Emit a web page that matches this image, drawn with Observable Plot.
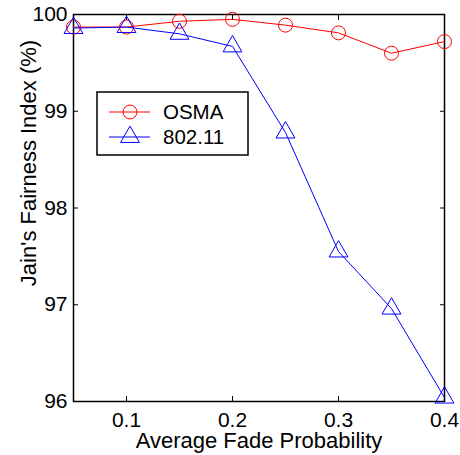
<!DOCTYPE html>
<html>
<head>
<meta charset="utf-8">
<script src="https://cdn.jsdelivr.net/npm/d3@7"></script>
<script src="https://cdn.jsdelivr.net/npm/@observablehq/plot@0.6"></script>
<style>
  body { margin: 0; background: #fff; }
  #wrap { position: relative; width: 460px; height: 455px; }
  #legend { position: absolute; left: 0; top: 0; }
</style>
</head>
<body>
<div id="wrap"></div>
<script>
const fadeProb = [0.05, 0.1, 0.15, 0.2, 0.25, 0.3, 0.35, 0.4];
const osma = [99.87, 99.87, 99.93, 99.95, 99.89, 99.81, 99.60, 99.72];
const ieee80211 = [99.86, 99.87, 99.80, 99.67, 98.78, 97.55, 96.96, 96.04];
const seriesNames = ["OSMA", "802.11"];
const xTicks = [0.1, 0.2, 0.3, 0.4];
const yTicks = [96, 97, 98, 99, 100];

const data = [];
fadeProb.forEach((x, i) => {
  data.push({x, y: osma[i], s: seriesNames[0]});
  data.push({x, y: ieee80211[i], s: seriesNames[1]});
});
const colors = {"OSMA": "#ff0000", "802.11": "#0000ff"};
const symbols = {"OSMA": "circle", "802.11": "triangle"};

const font = "'Liberation Sans', Arial, sans-serif";
const chart = Plot.plot({
  width: 460, height: 455,
  marginLeft: 73, marginRight: 16, marginTop: 14, marginBottom: 54,
  style: {fontFamily: font, fontSize: "21px", background: "#fff", color: "#000"},
  x: {domain: [0.05, 0.4], label: null},
  y: {domain: [96, 100], label: null},
  marks: [
    Plot.frame({stroke: "#000", strokeWidth: 1.5}),
    Plot.axisX(xTicks, {anchor: "bottom", tickSize: 0, tickPadding: 11, fontSize: 21, tickFormat: d => String(d)}),
    Plot.axisX(xTicks, {anchor: "bottom", tickSize: -5, text: null, strokeWidth: 1}),
    Plot.axisX(xTicks, {anchor: "top", tickSize: -5, text: null, strokeWidth: 1}),
    Plot.axisY(yTicks, {anchor: "left", tickSize: 0, tickPadding: 6, fontSize: 21, tickFormat: d => String(d)}),
    Plot.axisY(yTicks, {anchor: "left", tickSize: -5, text: null, strokeWidth: 1}),
    Plot.axisY(yTicks, {anchor: "right", tickSize: -5, text: null, strokeWidth: 1}),
    Plot.line(data, {x: "x", y: "y", z: "s", stroke: d => colors[d.s], strokeWidth: 1}),
    Plot.dot(data, {x: "x", y: "y", symbol: d => symbols[d.s], stroke: d => colors[d.s], fill: "none", r: 7, strokeWidth: 1}),
    Plot.text(["Average Fade Probability"], {frameAnchor: "bottom", dy: 46, fontSize: 22, text: d => d, lineAnchor: "bottom", textAnchor: "middle"}),
    Plot.text(["Jain's Fairness Index (%)"], {frameAnchor: "left", dx: -45, dy: -45, rotate: -90, fontSize: 22, text: d => d, textAnchor: "middle"})
  ]
});
document.getElementById("wrap").appendChild(chart);

// Legend overlay
const svg = d3.select("#wrap").append("svg")
  .attr("id", "legend").attr("width", 460).attr("height", 455)
  .style("pointer-events", "none");
const lg = svg.append("g").attr("transform", "translate(97,92)");
lg.append("rect").attr("width", 151).attr("height", 63).attr("fill", "#fff").attr("stroke", "#000").attr("stroke-width", 1.5);
seriesNames.forEach((name, i) => {
  const y = 20 + i * 25;
  const g = lg.append("g").attr("transform", `translate(0,${y})`);
  g.append("line").attr("x1", 12).attr("x2", 53).attr("y1", 0).attr("y2", 0).attr("stroke", colors[name]);
  const sym = name === "OSMA" ? d3.symbolCircle : d3.symbolTriangle;
  g.append("path").attr("d", d3.symbol(sym, Math.PI * 49)()).attr("transform", "translate(33,0)")
    .attr("fill", "none").attr("stroke", colors[name]);
  g.append("text").attr("x", 66).attr("y", 0).attr("dy", "0.35em")
    .attr("font-family", font).attr("font-size", 20.5).text(name);
});
</script>
</body>
</html>
